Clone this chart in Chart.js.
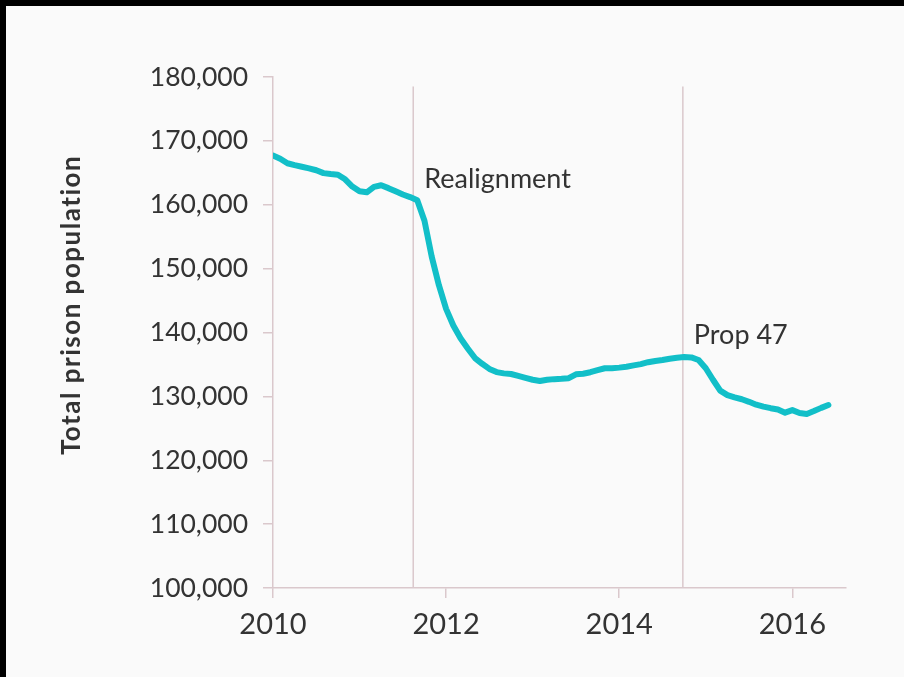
<!DOCTYPE html>
<html>
<head>
<meta charset="utf-8">
<script src="https://cdn.jsdelivr.net/npm/chart.js@4/dist/chart.umd.min.js"></script>
<style>
  html, body { margin: 0; padding: 0; background: #000; }
  #wrap { position: absolute; left: 6px; top: 6px; width: 898px; height: 671px; background: #fafafa; }
  canvas { display: block; }
</style>
</head>
<body>
<div id="wrap"><canvas id="c" width="898" height="671"></canvas></div>
<script>
// California total prison population, monthly from January 2010
const startYear = 2010;
const population = [
  167700, 167200, 166500, 166200, 165950, 165700, 165400, 164950, 164800, 164700, 163990, 162850,
  162100, 161950, 162800, 163050, 162600, 162100, 161600, 161200, 160700, 157500, 151900, 147400,
  143700, 141100, 139100, 137500, 136000, 135100, 134300, 133800, 133600, 133500, 133200, 132900,
  132600, 132400, 132600, 132700, 132750, 132850, 133450, 133550, 133780, 134100, 134400, 134400,
  134500, 134650, 134850, 135050, 135350, 135550, 135700, 135900, 136050, 136150, 136100, 135700,
  134400, 132600, 130900, 130200, 129850, 129550, 129150, 128700, 128400, 128150, 127950, 127450,
  127850, 127400, 127250, 127700, 128200, 128650
];
const xTickYears = [2010, 2012, 2014, 2016];
const yTickValues = [100000, 110000, 120000, 130000, 140000, 150000, 160000, 170000, 180000];

// Policy events marked on the chart
const eventNames = ['Realignment', 'Prop 47'];
const eventDates = [2011.62, 2014.735];
const eventLabelLevels = [164000, 139500];
const eventLineTop = 178500;

const axisTitle = 'Total prison population';

const axisColor = '#dac8cc';
const textColor = '#333333';
const lineColor = '#12bfc8';
const fontFamily = 'Lato, "Open Sans", sans-serif';

const points = population.map((v, i) => ({ x: startYear + i / 12, y: v }));

const eventPlugin = {
  id: 'events',
  beforeDatasetsDraw(chart) {
    const { ctx, scales: { x, y } } = chart;
    ctx.save();
    ctx.strokeStyle = axisColor;
    ctx.lineWidth = 1.5;
    eventDates.forEach(d => {
      const px = x.getPixelForValue(d);
      ctx.beginPath();
      ctx.moveTo(px, y.getPixelForValue(eventLineTop));
      ctx.lineTo(px, y.getPixelForValue(y.min));
      ctx.stroke();
    });
    ctx.restore();
  },
  afterDatasetsDraw(chart) {
    const { ctx, scales: { x, y } } = chart;
    ctx.save();
    ctx.fillStyle = textColor;
    ctx.font = '27px ' + fontFamily;
    ctx.textAlign = 'left';
    ctx.textBaseline = 'middle';
    eventNames.forEach((name, i) => {
      ctx.fillText(name, x.getPixelForValue(eventDates[i]) + 11, y.getPixelForValue(eventLabelLevels[i]));
    });
    // vertical axis title
    ctx.translate(66, 299);
    ctx.rotate(-Math.PI / 2);
    ctx.textAlign = 'center';
    ctx.font = 'bold 26px ' + fontFamily;
    ctx.letterSpacing = '1.5px';
    ctx.fillText(axisTitle, 0, 0);
    ctx.restore();
  }
};

new Chart(document.getElementById('c'), {
  type: 'line',
  data: {
    datasets: [{
      data: points,
      borderColor: lineColor,
      borderWidth: 6,
      borderJoinStyle: 'round',
      borderCapStyle: 'round',
      pointRadius: 0,
      tension: 0,
      fill: false
    }]
  },
  options: {
    responsive: false,
    devicePixelRatio: 1,
    animation: false,
    layout: { padding: { left: 0, right: 58, top: 71, bottom: 0 } },
    plugins: { legend: { display: false }, tooltip: { enabled: false } },
    scales: {
      x: {
        type: 'linear',
        min: 2010,
        max: 2016.62,
        afterBuildTicks(scale) { scale.ticks = xTickYears.map(v => ({ value: v })); },
        afterFit(scale) { scale.height = 89; },
        ticks: {
          autoSkip: false,
          maxRotation: 0,
          padding: 9,
          color: textColor,
          font: { family: fontFamily, size: 29 },
          callback: v => String(v)
        },
        grid: { drawOnChartArea: false, drawTicks: true, tickLength: 10, color: axisColor, lineWidth: 1.5 },
        border: { display: true, color: axisColor, width: 1.5 }
      },
      y: {
        min: 100000,
        max: 180000,
        afterBuildTicks(scale) { scale.ticks = yTickValues.map(v => ({ value: v })); },
        afterFit(scale) { scale.width = 267; },
        ticks: {
          padding: 15,
          color: textColor,
          font: { family: fontFamily, size: 26.5 },
          callback: v => v.toLocaleString('en-US')
        },
        grid: { drawOnChartArea: false, drawTicks: true, tickLength: 10, color: axisColor, lineWidth: 1.5 },
        border: { display: true, color: axisColor, width: 1.5 }
      }
    }
  },
  plugins: [eventPlugin]
});
</script>
</body>
</html>
